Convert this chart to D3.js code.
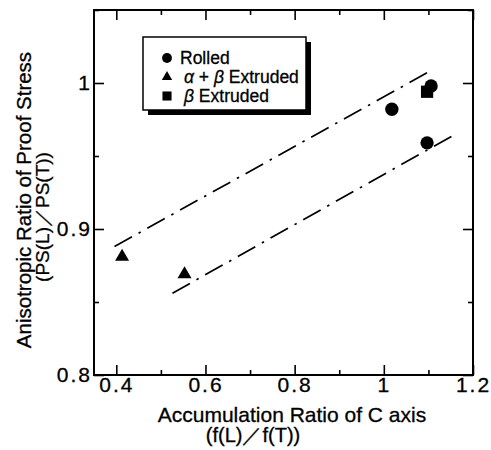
<!DOCTYPE html>
<html>
<head>
<meta charset="utf-8">
<script src="https://cdn.jsdelivr.net/npm/d3@7"></script>
<style>
  body { margin: 0; background: #fff; }
  svg { display: block; }
  text { font-family: "Liberation Sans", Arial, Helvetica, sans-serif; fill: #000; stroke: #000; stroke-width: 0.3px; }
  .axis text { font-size: 21px; letter-spacing: 2px; }
  .axis line { stroke: #000; stroke-width: 1.6; }
  .axis path { display: none; }
</style>
</head>
<body>
<script>
// values
const rolled = [[1.018, 0.982], [1.097, 0.959], [1.106, 0.998]];
const alphaBeta = [[0.413, 0.881], [0.553, 0.869]];
const betaExt = [[1.097, 0.994]];

// the two dash-dot guide lines (end points)
const upperLine = [[0.396, 0.888], [1.097, 1.007]];
const lowerLine = [[0.526, 0.856], [1.155, 0.964]];

const xTicks = [0.4, 0.6, 0.8, 1, 1.2],
      xMinor = [0.5, 0.7, 0.9, 1.1],
      xLabels = ['0.4', '0.6', '0.8', '1', '1.2'];
const yTicks = [0.8, 0.9, 1],
      yMinor = [0.85, 0.95, 1.05],
      yLabels = ['0.8', '0.9', '1'];

const legendNames = ['Rolled', 'ab', 'b'];

let width = 491,
    height = 450,
    pLeft = 94, pRight = 473, pTop = 10, pBottom = 375;

let svg = d3.select('body').append('svg')
    .attr('width', width)
    .attr('height', height);

let x = d3.scaleLinear().domain([0.35, 1.2]).range([pLeft, pRight]);
let y = d3.scaleLinear().domain([0.8, 1.05]).range([pBottom, pTop]);

// ticks all point inward, on all four sides
function tickSide(axis, vals, size, labels, transform) {
    let g = svg.append('g').attr('class', 'axis').attr('transform', transform)
        .call(axis.tickValues(vals).tickSize(-size).tickPadding(labels ? 2 : 0)
            .tickFormat((d, i) => labels ? labels[i] : ''));
    return g;
}

tickSide(d3.axisBottom(x), xTicks, 10, xLabels, `translate(0,${pBottom})`);
tickSide(d3.axisBottom(x), xMinor, 5, null, `translate(0,${pBottom})`);
tickSide(d3.axisTop(x), xTicks, 10, null, `translate(0,${pTop})`);
tickSide(d3.axisTop(x), xMinor, 5, null, `translate(0,${pTop})`);
tickSide(d3.axisLeft(y), yTicks, 10, yLabels, `translate(${pLeft},0)`);
tickSide(d3.axisLeft(y), yMinor, 5, null, `translate(${pLeft},0)`);
tickSide(d3.axisRight(y), yTicks, 10, null, `translate(${pRight},0)`);
tickSide(d3.axisRight(y), yMinor, 5, null, `translate(${pRight},0)`);

// frame
svg.append('rect')
    .attr('x', pLeft).attr('y', pTop)
    .attr('width', pRight - pLeft).attr('height', pBottom - pTop)
    .attr('fill', 'none').attr('stroke', '#000').attr('stroke-width', 2);

// dash-dot lines
let line = d3.line().x(d => x(d[0])).y(d => y(d[1]));
svg.selectAll('.fit')
    .data([upperLine, lowerLine])
    .enter().append('path')
    .attr('class', 'fit')
    .attr('d', line)
    .attr('fill', 'none')
    .attr('stroke', '#000')
    .attr('stroke-width', 1.7)
    .attr('stroke-dasharray', '20,7.5,2.5,7.5');

// points
let markers = [
    { data: rolled, type: d3.symbolCircle, size: 140 },
    { data: alphaBeta, type: d3.symbolTriangle, size: 85 },
    { data: betaExt, type: d3.symbolSquare, size: 150 }
];
markers.forEach(m => {
    svg.selectAll(null)
        .data(m.data)
        .enter().append('path')
        .attr('transform', d => `translate(${x(d[0])},${y(d[1])})`)
        .attr('d', d3.symbol().type(m.type).size(m.size));
});

// legend with drop shadow
let lg = svg.append('g').attr('transform', 'translate(143,37)');
lg.append('rect').attr('x', 5).attr('y', 5).attr('width', 163).attr('height', 73).attr('fill', '#000');
lg.append('rect').attr('width', 163).attr('height', 73)
    .attr('fill', '#fff').attr('stroke', '#000').attr('stroke-width', 1.5);

markers.forEach((m, i) => {
    let cy = 21 + i * 19;
    lg.append('path')
        .attr('transform', `translate(24,${cy})`)
        .attr('d', d3.symbol().type(m.type).size(m.size * 0.55));
    let t = lg.append('text')
        .attr('x', i == 0 ? 37 : 41)
        .attr('y', cy + 6)
        .style('font-size', '17.5px');
    if (legendNames[i] == 'Rolled') {
        t.text('Rolled');
    } else if (legendNames[i] == 'ab') {
        t.append('tspan').style('font-style', 'italic').text('α');
        t.append('tspan').text(' + ');
        t.append('tspan').style('font-style', 'italic').text('β');
        t.append('tspan').text(' Extruded');
    } else {
        t.append('tspan').style('font-style', 'italic').text('β');
        t.append('tspan').text(' Extruded');
    }
});

// axis titles
svg.append('text')
    .attr('x', 292).attr('y', 422)
    .attr('text-anchor', 'middle')
    .style('font-size', '21px')
    .text('Accumulation Ratio of C axis');
svg.append('text')
    .attr('x', 253).attr('y', 442)
    .attr('text-anchor', 'middle')
    .style('font-size', '20px')
    .text('(f(L)／f(T))');

svg.append('text')
    .attr('transform', 'translate(31,200) rotate(-90)')
    .attr('text-anchor', 'middle')
    .style('font-size', '20.5px')
    .text('Anisotropic Ratio of Proof Stress');
svg.append('text')
    .attr('transform', 'translate(49,217) rotate(-90)')
    .attr('text-anchor', 'middle')
    .style('font-size', '19px')
    .text('(PS(L)／PS(T))');
</script>
</body>
</html>
